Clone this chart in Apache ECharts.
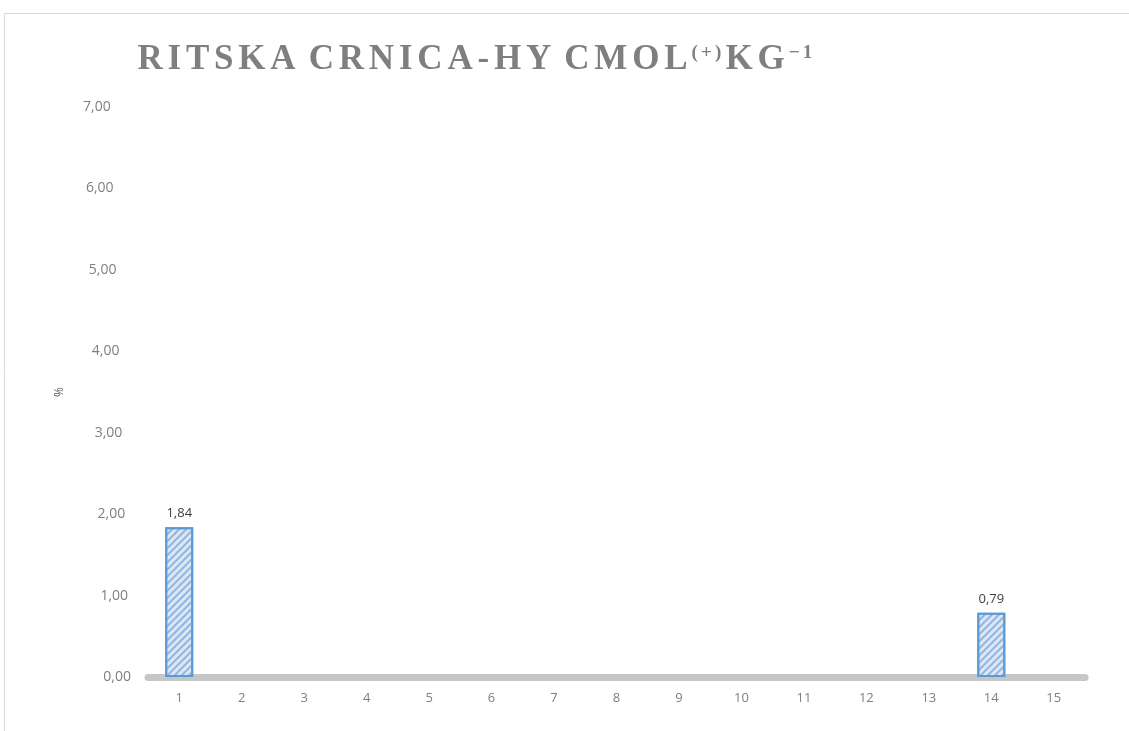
<!DOCTYPE html>
<html><head><meta charset="utf-8">
<script src="https://cdn.jsdelivr.net/npm/echarts@6/dist/echarts.min.js"></script>
<style>html,body{margin:0;padding:0;background:#fff}#c{width:1129px;height:731px}</style>
</head><body><div id="c"></div>
<script>
const categories = ['1','2','3','4','5','6','7','8','9','10','11','12','13','14','15'];
const values = [1.84, null, null, null, null, null, null, null, null, null, null, null, null, 0.79, null];
const titleMain = 'RITSKA CRNICA-HY CMOL';
const titleSup1 = '(+)';
const titleMid = 'KG';
const titleSup2 = '−1';
const yName = '%';

const fmt = v => v.toFixed(2).replace('.', ',');
const spaced = (s, st) => s.split('').map(ch => ch === ' ' ? `{sp| }` : `{${st}|${ch}}`).join('');
const titleRich = spaced(titleMain, 'c') + spaced(titleSup1, 's') + spaced(titleMid, 'c') + spaced(titleSup2, 's');

const yRich = {};
for (let i = 0; i <= 7; i++) {
  yRich['p' + i] = { color: '#7f7f7f', fontSize: 14, fontFamily: 'Open Sans', padding: [0, 2.9 * i, 0, 0] };
}

const chart = echarts.init(document.getElementById('c'));
chart.setOption({
  animation: false,
  graphic: [
    { type: 'rect', shape: { x: 4.5, y: 13.5, width: 1140, height: 740 }, style: { fill: 'none', stroke: '#d9d9d9', lineWidth: 1 }, z: -10 }
  ],
  title: {
    text: titleRich, left: 130, top: 35,
    textStyle: {
      rich: {
        c: { fontFamily: 'Liberation Serif', fontWeight: 'bold', fontSize: 35, color: '#7f7f7f', padding: [0, 2.4, 0, 2.4], lineHeight: 40 },
        sp: { fontFamily: 'Liberation Serif', fontWeight: 'bold', fontSize: 33, color: '#7f7f7f', lineHeight: 40 },
        s: { fontFamily: 'Liberation Serif', fontWeight: 'bold', fontSize: 19, color: '#7f7f7f', padding: [4, 1.6, 0, 1.6], lineHeight: 18, verticalAlign: 'top' }
      }
    }
  },
  grid: { left: 148, right: 44, top: 107, bottom: 54 },
  xAxis: {
    type: 'category', data: categories,
    axisLine: { lineStyle: { color: '#c6c6c6', width: 7 } },
    axisTick: { show: false },
    axisLabel: { color: '#7f7f7f', fontSize: 13, fontFamily: 'Open Sans', margin: 15 }
  },
  yAxis: {
    type: 'value', min: 0, max: 7, interval: 1,
    name: yName, nameLocation: 'middle', nameGap: 82, nameRotate: 90,
    nameTextStyle: { color: '#595959', fontSize: 12, fontFamily: 'Open Sans' },
    axisLine: { show: false }, axisTick: { show: false },
    splitLine: { show: false },
    axisLabel: { margin: 17, formatter: v => `{p${Math.round(v)}|${fmt(v)}}`, rich: yRich }
  },
  series: [{
    type: 'bar', data: values, barWidth: 28,
    itemStyle: {
      color: '#dbe7f5', borderColor: '#5b9bd5', borderWidth: 2,
      decal: { symbol: 'rect', dashArrayX: [1, 0], dashArrayY: [2, 3], rotation: -Math.PI / 4, color: '#8fb5e0' }
    },
    label: { show: true, position: 'top', distance: 7, color: '#404040', fontSize: 13, fontFamily: 'Open Sans', formatter: p => fmt(p.value) }
  }]
});
</script></body></html>
